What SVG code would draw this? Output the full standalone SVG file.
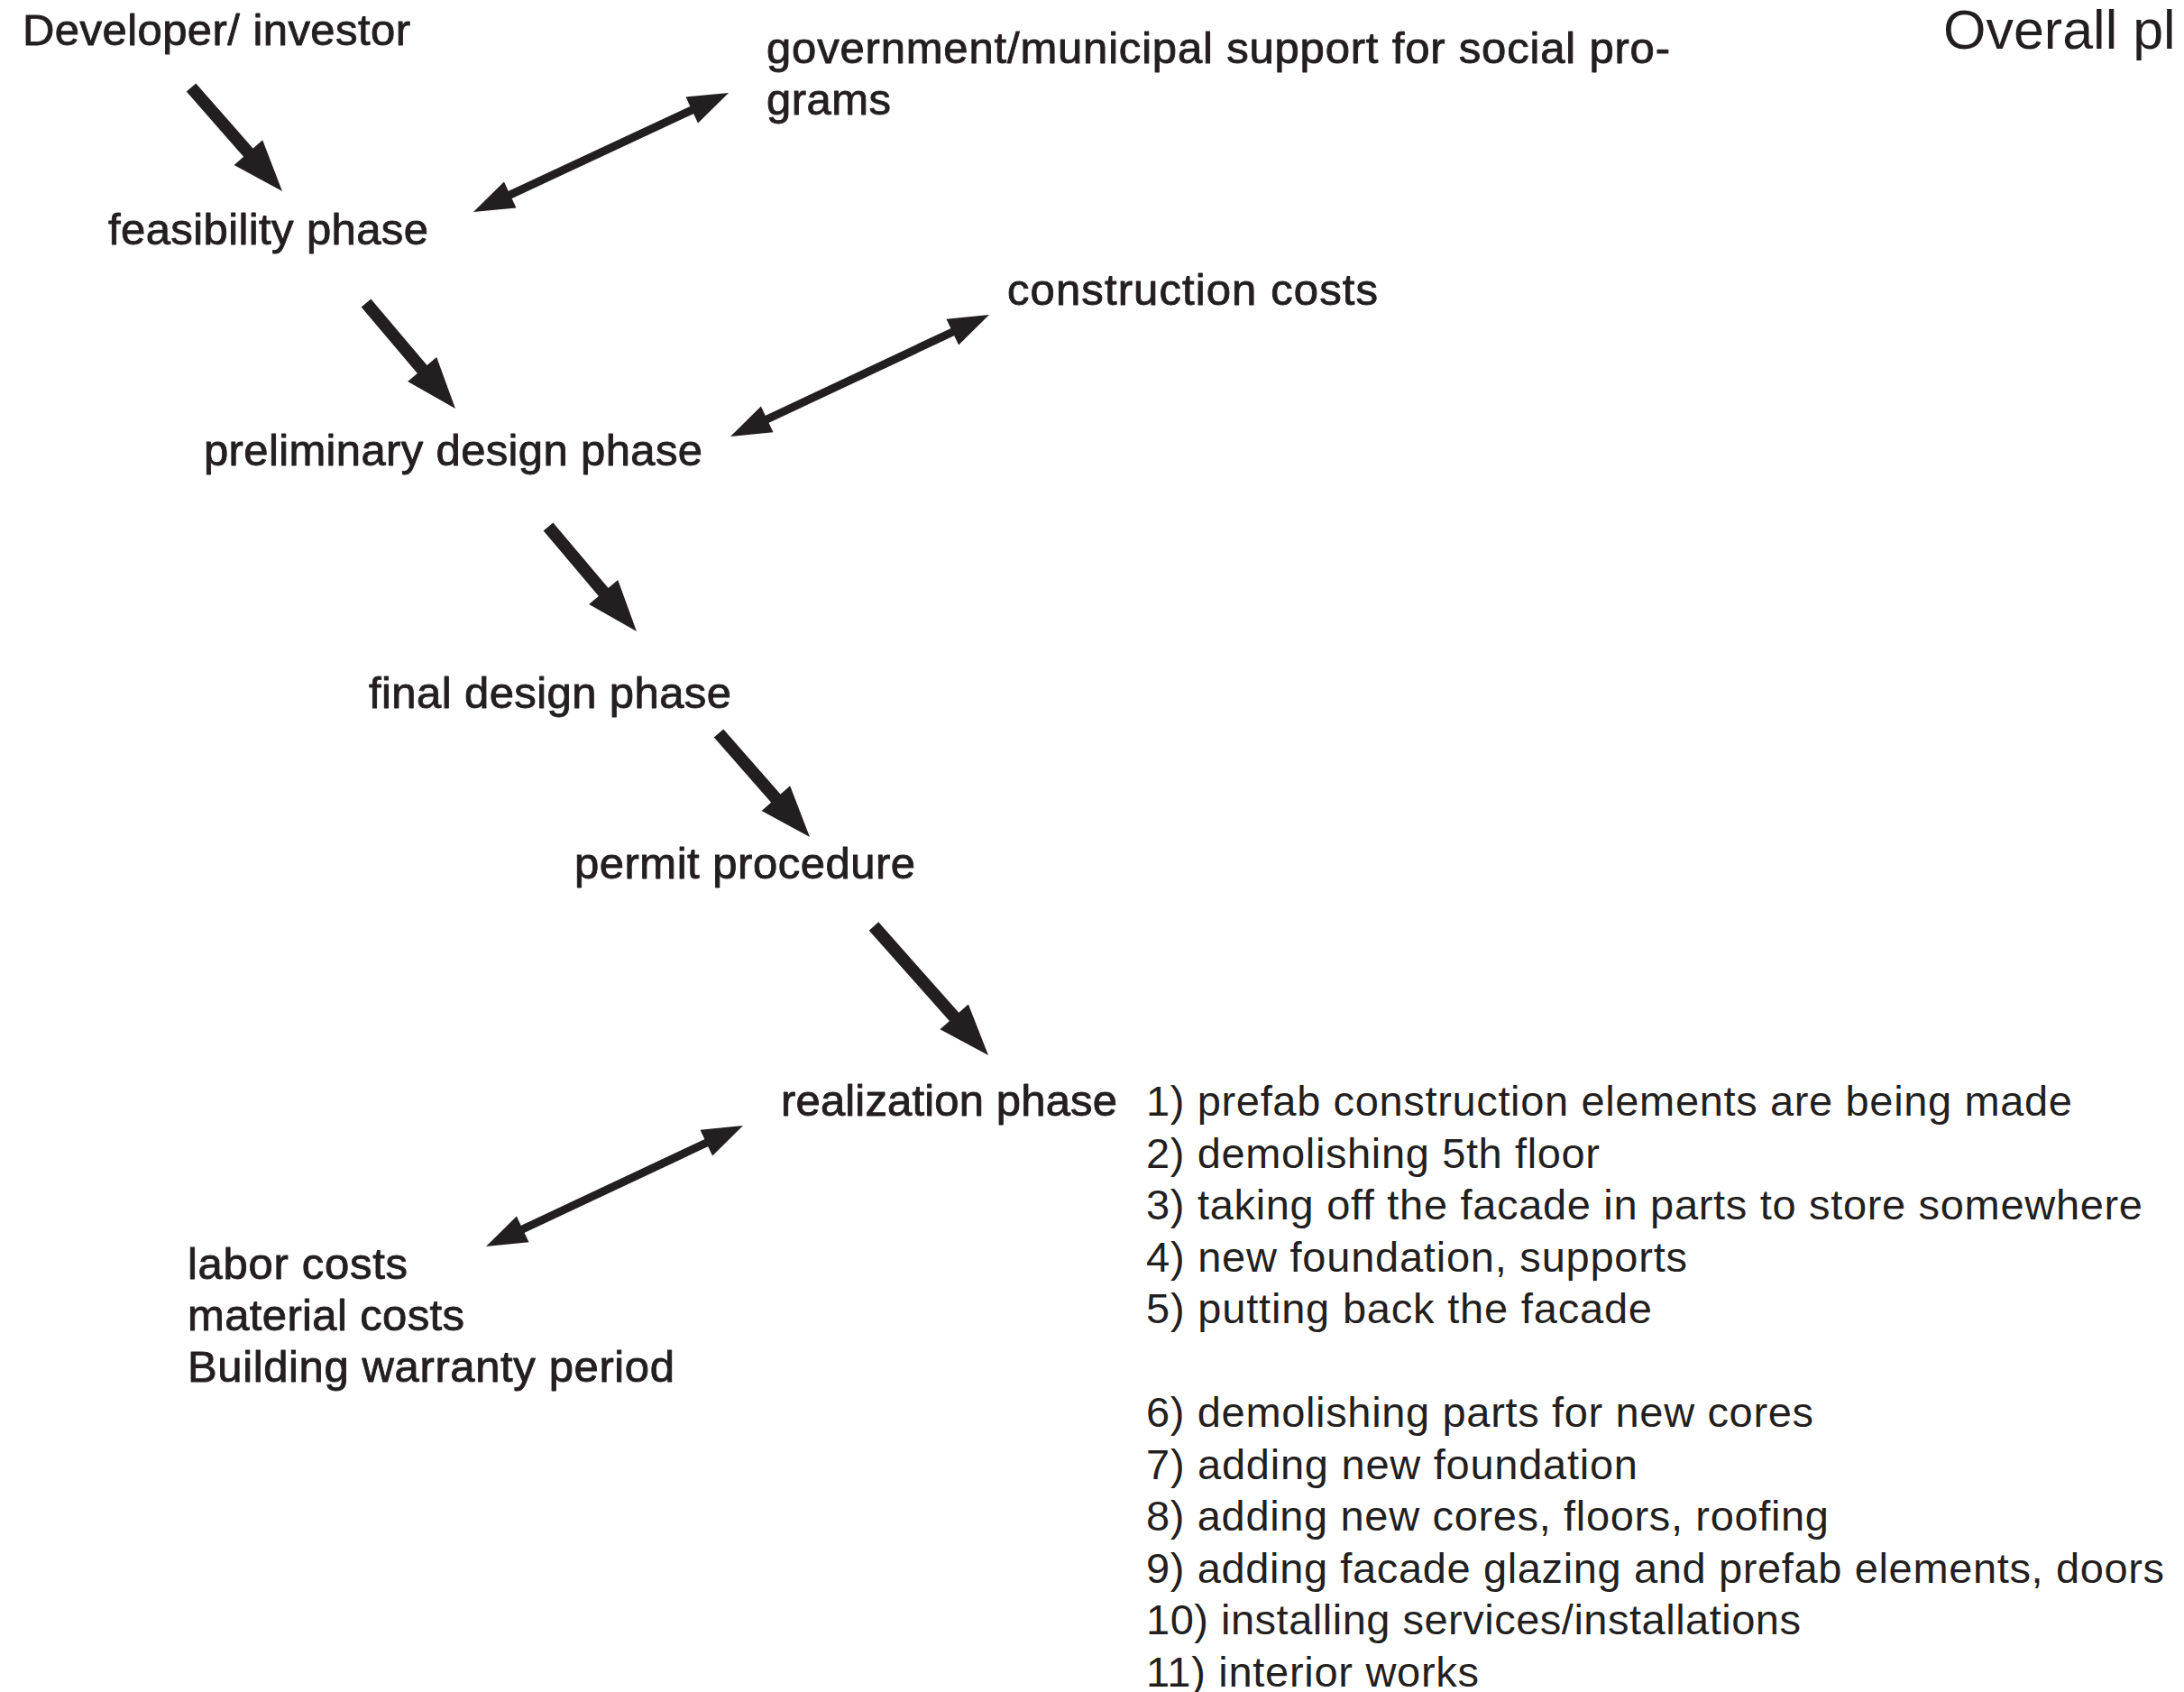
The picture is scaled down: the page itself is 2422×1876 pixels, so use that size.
<svg xmlns="http://www.w3.org/2000/svg" width="2422" height="1876" viewBox="0 0 2422 1876">
  <style>
    .lbl { font-family: "Liberation Sans", Arial, Helvetica, sans-serif; font-size: 49px; fill: #231f20; stroke: #231f20; stroke-width: 0.9px; stroke-linejoin: round; }
    .step { font-family: "Liberation Sans", Arial, Helvetica, sans-serif; font-size: 47px; fill: #231f20; }
    .title { font-family: "Liberation Sans", Arial, Helvetica, sans-serif; font-size: 61px; fill: #231f20; }
    .flow { stroke: #231f20; stroke-width: 14; fill: none; stroke-linecap: butt; marker-end: url(#head-big); }
    .link { stroke: #231f20; stroke-width: 9; fill: none; stroke-linecap: butt; marker-start: url(#head-small); marker-end: url(#head-small); }
  </style>
  <defs>
    <!-- solid triangular head for the phase-to-phase arrows -->
    <marker id="head-big" markerUnits="userSpaceOnUse" markerWidth="60" markerHeight="44" refX="27" refY="21" orient="auto" overflow="visible">
      <path d="M0,0 L57,21 L0,42 Z" fill="#231f20"/>
    </marker>
    <!-- smaller head used on both ends of the two-way links -->
    <marker id="head-small" markerUnits="userSpaceOnUse" markerWidth="48" markerHeight="34" refX="21" refY="16" orient="auto-start-reverse" overflow="visible">
      <path d="M0,0 L45,16 L0,32 Z" fill="#231f20"/>
    </marker>
  </defs>

  <rect width="2422" height="1876" fill="#ffffff"/>

  <g id="title">
    <text class="title" x="2155" y="54">Overall pl</text>
  </g>

  <g id="developer">
    <text class="lbl" x="25" y="50" textLength="430" lengthAdjust="spacing">Developer/ investor</text>
  </g>

  <g id="government-support">
    <text class="lbl" x="850" y="70" textLength="1002" lengthAdjust="spacing">government/municipal support for social pro-</text>
    <text class="lbl" x="850" y="127" textLength="138" lengthAdjust="spacing">grams</text>
  </g>

  <g id="feasibility">
    <text class="lbl" x="120" y="271" textLength="355" lengthAdjust="spacing">feasibility phase</text>
  </g>

  <g id="construction-costs">
    <text class="lbl" x="1117" y="338" textLength="411" lengthAdjust="spacing">construction costs</text>
  </g>

  <g id="preliminary-design">
    <text class="lbl" x="226" y="516" textLength="553" lengthAdjust="spacing">preliminary design phase</text>
  </g>

  <g id="final-design">
    <text class="lbl" x="409" y="785" textLength="402" lengthAdjust="spacing">final design phase</text>
  </g>

  <g id="permit">
    <text class="lbl" x="637" y="974" textLength="378" lengthAdjust="spacing">permit procedure</text>
  </g>

  <g id="realization">
    <text class="lbl" x="866" y="1237" textLength="373" lengthAdjust="spacing">realization phase</text>
  </g>

  <g id="realization-steps">
    <text class="step" x="1271" y="1237" textLength="1027" lengthAdjust="spacing">1) prefab construction elements are being made</text>
    <text class="step" x="1271" y="1294.5" textLength="503" lengthAdjust="spacing">2) demolishing 5th floor</text>
    <text class="step" x="1271" y="1352" textLength="1105" lengthAdjust="spacing">3) taking off the facade in parts to store somewhere</text>
    <text class="step" x="1271" y="1409.5" textLength="600" lengthAdjust="spacing">4) new foundation, supports</text>
    <text class="step" x="1271" y="1467" textLength="561" lengthAdjust="spacing">5) putting back the facade</text>
    <text class="step" x="1271" y="1582" textLength="740" lengthAdjust="spacing">6) demolishing parts for new cores</text>
    <text class="step" x="1271" y="1639.5" textLength="545" lengthAdjust="spacing">7) adding new foundation</text>
    <text class="step" x="1271" y="1697" textLength="757" lengthAdjust="spacing">8) adding new cores, floors, roofing</text>
    <text class="step" x="1271" y="1754.5" textLength="1129" lengthAdjust="spacing">9) adding facade glazing and prefab elements, doors</text>
    <text class="step" x="1271" y="1812" textLength="726" lengthAdjust="spacing">10) installing services/installations</text>
    <text class="step" x="1271" y="1869.5" textLength="369" lengthAdjust="spacing">11) interior works</text>
  </g>

  <g id="costs">
    <text class="lbl" x="208" y="1418" textLength="244" lengthAdjust="spacing">labor costs</text>
    <text class="lbl" x="208" y="1475" textLength="307" lengthAdjust="spacing">material costs</text>
    <text class="lbl" x="208" y="1532" textLength="540" lengthAdjust="spacing">Building warranty period</text>
  </g>

  <g id="connectors">
    <!-- main sequence -->
    <line class="flow" x1="212" y1="97" x2="293.2" y2="189.5"/>
    <line class="flow" x1="406" y1="336" x2="485.6" y2="430.1"/>
    <line class="flow" x1="608" y1="584" x2="686.6" y2="677.1"/>
    <line class="flow" x1="797" y1="813" x2="878.2" y2="905.5"/>
    <line class="flow" x1="969" y1="1027" x2="1076.1" y2="1147.6"/>
    <!-- two-way links -->
    <line class="link" x1="546.7" y1="224.9" x2="786.3" y2="113.1"/>
    <line class="link" x1="831.7" y1="473.8" x2="1075.3" y2="359.2"/>
    <line class="link" x1="560.7" y1="1371.8" x2="802.3" y2="1258.2"/>
  </g>
</svg>
